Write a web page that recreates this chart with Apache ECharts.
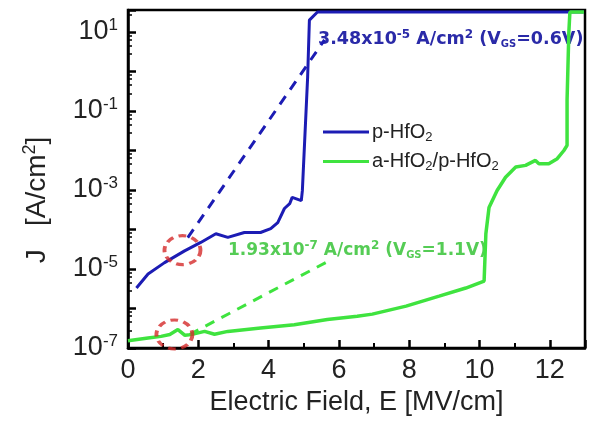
<!DOCTYPE html>
<html><head><meta charset="utf-8">
<script src="https://cdn.jsdelivr.net/npm/echarts@6/dist/echarts.min.js"></script>
<style>html,body{margin:0;padding:0;background:#fff}#c{width:590px;height:427px}</style>
</head><body><div id="c"></div>
<script>
// x ticks (MV/cm) and y decades
const xTicks = [0, 2, 4, 6, 8, 10, 12];
const yLabelExps = [-7, -5, -3, -1, 1];

// p-HfO2 (blue)
const blueE = [0.24, 0.57, 1.04, 1.61, 2.07, 2.50, 2.84, 3.31, 3.77, 4.06, 4.26, 4.45, 4.60, 4.67, 4.93, 4.96, 5.11, 5.16, 5.39, 12.97];
const blueJ = [3.3e-6, 7.5e-6, 1.45e-5, 2.87e-5, 4.7e-5, 7.8e-5, 6.3e-5, 8.4e-5, 8.4e-5, 1.05e-4, 1.5e-4, 3.4e-4, 4.5e-4, 6.5e-4, 5.4e-4, 9.6e-4, 0.72, 20, 32, 32];

// a-HfO2/p-HfO2 (green)
const greenE = [0.0, 0.57, 0.94, 1.19, 1.42, 1.62, 1.79, 2.18, 2.46, 2.84, 3.77, 4.73, 5.67, 6.52, 6.95, 7.91, 8.85, 9.61, 10.13, 10.18, 10.27, 10.50, 10.74, 11.03, 11.31, 11.59, 11.69, 11.97, 12.21, 12.40, 12.49, 12.49, 12.54, 12.57, 12.97];
const greenJ = [1.53e-7, 1.79e-7, 1.97e-7, 2.2e-7, 2.92e-7, 2.09e-7, 2.18e-7, 2.63e-7, 2.23e-7, 2.63e-7, 3.22e-7, 3.9e-7, 5.24e-7, 6.4e-7, 7.2e-7, 1.15e-6, 2.05e-6, 3.3e-6, 4.95e-6, 7.8e-5, 3.6e-4, 9.7e-4, 2.1e-3, 3.8e-3, 4.2e-3, 5.6e-3, 4.6e-3, 4.6e-3, 6.2e-3, 1.0e-2, 1.35e-2, 0.19, 9.5, 32, 32];

// extrapolation (dashed) lines
const blueFitE = [1.70, 5.59];
const blueFitJ = [6.2e-5, 6.3];
const greenFitE = [1.75, 5.82];
const greenFitJ = [2.2e-7, 1.8e-5];

// red dashed circles
const circleE = [1.55, 1.32];
const circleJ = [3.0e-5, 2.2e-7];

const BLUE = '#1c1cb4';
const GREEN = '#3fe33f';
const zip = (a, b) => a.map((v, i) => [v, b[i]]);

const chart = echarts.init(document.getElementById('c'));
const FONT = 'Liberation Sans, Arial, sans-serif';

chart.setOption({
  animation: false,
  backgroundColor: '#fff',
  textStyle: { fontFamily: FONT },
  grid: { left: 128, right: 5, top: 10, bottom: 79, show: true, borderColor: '#000', borderWidth: 2.5, backgroundColor: 'transparent' },
  legend: {
    data: ['p-HfO2', 'a-HfO2/p-HfO2'],
    orient: 'vertical',
    left: 318, top: 117,
    icon: 'rect', itemWidth: 46, itemHeight: 3, itemGap: 8,
    formatter: n => n === 'p-HfO2' ? '{t|p-HfO}{s|2}' : '{t|a-HfO}{s|2}{t|/p-HfO}{s|2}',
    textStyle: {
      fontFamily: FONT, color: '#222', padding: [0, 0, 0, -2],
      rich: {
        t: { fontSize: 20, fontFamily: FONT, color: '#222', lineHeight: 23 },
        s: { fontSize: 13, fontFamily: FONT, color: '#222', padding: [10, 0, 0, 0] }
      }
    }
  },
  xAxis: {
    type: 'value', min: 0, max: 13, interval: 2,
    axisLine: { show: true, lineStyle: { color: '#000', width: 2.5 } },
    axisTick: { show: true, inside: true, length: 8, lineStyle: { color: '#000', width: 2.5 } },
    minorTick: { show: true, splitNumber: 2, length: 5, lineStyle: { color: '#000', width: 2 } },
    splitLine: { show: false },
    axisLabel: {
      fontSize: 27, color: '#222', margin: 9, fontFamily: FONT,
      formatter: v => xTicks.indexOf(v) >= 0 ? String(v) : ''
    },
    name: 'Electric Field, E [MV/cm]', nameLocation: 'middle', nameGap: 41,
    nameTextStyle: { fontSize: 27, color: '#222', fontFamily: FONT }
  },
  yAxis: {
    type: 'log', logBase: 10, min: 1e-7, max: 36, splitNumber: 10,
    axisLine: { show: true, lineStyle: { color: '#000', width: 2.5 } },
    axisTick: { show: true, inside: true, length: 8, lineStyle: { color: '#000', width: 2.5 } },
    minorTick: { show: true, splitNumber: 5, length: 4, lineStyle: { color: '#000', width: 1.5 } },
    splitLine: { show: false },
    axisLabel: {
      margin: 10, color: '#222', fontFamily: FONT,
      formatter: v => {
        const l = Math.log10(v), e = Math.round(l);
        if (Math.abs(l - e) > 0.01 || yLabelExps.indexOf(e) < 0) return '';
        return '{b|10}{e|' + e + '}';
      },
      rich: {
        b: { fontSize: 27, color: '#222', fontFamily: FONT },
        e: { fontSize: 17, color: '#222', fontFamily: FONT, padding: [0, 0, 14, 0] }
      }
    }
  },
  graphic: [
    {
      type: 'text', x: 37, y: 200, rotation: Math.PI / 2,
      style: {
        text: '{a|J   [A/cm}{s|2}{a|]}', align: 'center', verticalAlign: 'middle',
        rich: {
          a: { fontSize: 28, fill: '#222', fontFamily: FONT },
          s: { fontSize: 18, fill: '#222', fontFamily: FONT, padding: [0, 0, 14, 0] }
        }
      }
    },
    {
      type: 'text', x: 318, y: 29,
      style: {
        text: '{a|3.48x10}{p|-5}{a| A/cm}{p|2}{a| (V}{u|GS}{a|=0.6V)}', align: 'left', verticalAlign: 'top',
        rich: {
          a: { fontSize: 17.5, fontWeight: 'bold', fill: '#2a2aa8', fontFamily: 'DejaVu Sans' },
          p: { fontSize: 12, fontWeight: 'bold', fill: '#2a2aa8', fontFamily: 'DejaVu Sans', padding: [0, 0, 9, 0] },
          u: { fontSize: 10, fontWeight: 'bold', fill: '#2a2aa8', fontFamily: 'DejaVu Sans', padding: [9, 0, 0, 0] }
        }
      }
    },
    {
      type: 'text', x: 228, y: 240,
      style: {
        text: '{a|1.93x10}{p|-7}{a| A/cm}{p|2}{a| (V}{u|GS}{a|=1.1V)}', align: 'left', verticalAlign: 'top',
        rich: {
          a: { fontSize: 17, fontWeight: 'bold', fill: '#55cc55', fontFamily: 'DejaVu Sans' },
          p: { fontSize: 12, fontWeight: 'bold', fill: '#55cc55', fontFamily: 'DejaVu Sans', padding: [0, 0, 9, 0] },
          u: { fontSize: 10, fontWeight: 'bold', fill: '#55cc55', fontFamily: 'DejaVu Sans', padding: [9, 0, 0, 0] }
        }
      }
    }
  ],
  series: [
    {
      name: 'blue-fit', type: 'line', data: zip(blueFitE, blueFitJ), symbol: 'none', z: 2,
      lineStyle: { color: BLUE, width: 3, type: [10, 8] }
    },
    {
      name: 'green-fit', type: 'line', data: zip(greenFitE, greenFitJ), symbol: 'none', z: 2,
      lineStyle: { color: GREEN, width: 3, type: [10, 8] }
    },
    {
      name: 'p-HfO2', type: 'line', data: zip(blueE, blueJ), symbol: 'none', z: 3,
      itemStyle: { color: BLUE }, lineStyle: { color: BLUE, width: 3 }
    },
    {
      name: 'a-HfO2/p-HfO2', type: 'line', data: zip(greenE, greenJ), symbol: 'none', z: 3,
      itemStyle: { color: GREEN }, lineStyle: { color: GREEN, width: 3.5 }
    },
    {
      name: 'circles', type: 'scatter', data: zip(circleE, circleJ), symbol: 'circle', symbolSize: [36, 29], z: 4,
      itemStyle: { color: 'rgba(0,0,0,0)', borderColor: '#d42a2a', borderWidth: 3.5, borderType: [7, 5] }
    }
  ]
});
</script></body></html>
